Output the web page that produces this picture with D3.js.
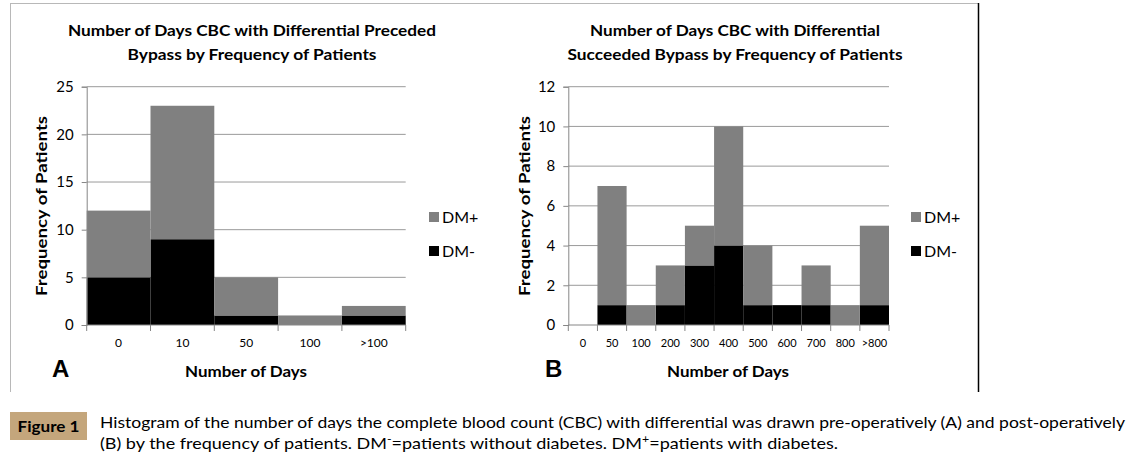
<!DOCTYPE html>
<html lang="en">
<head>
<meta charset="UTF-8">
<title>Figure 1 - CBC with Differential and Bypass</title>
<script src="https://d3js.org/d3.v7.min.js"></script>
<style>
    body { margin: 0; background: #fff; }
    svg text { font-family: Lato, "Open Sans", sans-serif; fill: #000; }
    .title { font-size: 15px; font-weight: bold; }
    .axis-title { font-size: 16px; font-weight: bold; }
    .panel-letter { font-size: 24px; font-weight: bold; font-family: "Liberation Sans", Arial, sans-serif; }
    .ytick { font-size: 15px; }
    .xtick { font-size: 12px; }
    .legend-text { font-size: 16px; }
    .caption { font-size: 16px; }
</style>
</head>
<body>
<div id="chart"></div>
<script>
// panel A: days CBC preceded bypass
const catsA = ["0", "10", "50", "100", ">100"];
const dmMinusA = [5, 9, 1, 0, 1];
const dmPlusA = [7, 14, 4, 1, 1];   // stacked on top of DM-

// panel B: days CBC succeeded bypass
const catsB = ["0", "50", "100", "200", "300", "400", "500", "600", "700", "800", ">800"];
const dmMinusB = [0, 1, 0, 1, 3, 4, 1, 1, 1, 0, 1];
const dmPlusB = [0, 6, 1, 2, 2, 6, 3, 0, 2, 1, 4];

const seriesNames = ["DM+", "DM-"];
const colors = { "DM+": "#808080", "DM-": "#000000" };

const W = 1138, H = 460;
const svg = d3.select("#chart").append("svg").attr("width", W).attr("height", H);

// outer frame: grey top/left, dark right
svg.append("line").attr("x1", 10).attr("x2", 978).attr("y1", 3.5).attr("y2", 3.5).attr("stroke", "#b8b8b8");
svg.append("line").attr("x1", 10.5).attr("x2", 10.5).attr("y1", 3).attr("y2", 392).attr("stroke", "#b8b8b8");
svg.append("line").attr("x1", 978.5).attr("x2", 978.5).attr("y1", 3).attr("y2", 392).attr("stroke", "#000").attr("stroke-width", 1.5);

function drawPanel(opts) {
    const g = svg.append("g");
    const x = d3.scaleBand().domain(opts.cats).range([opts.x0, opts.x1]).padding(0);
    const y = d3.scaleLinear().domain([0, opts.ymax]).range([325, 86.7]);

    // gridlines
    g.selectAll(".grid").data(d3.range(opts.step, opts.ymax + 0.001, opts.step)).join("line")
        .attr("x1", opts.x0).attr("x2", opts.x1)
        .attr("y1", d => y(d)).attr("y2", d => y(d))
        .attr("stroke", "#9a9a9a").attr("stroke-width", 1);

    // stacked bars
    const rows = opts.cats.map((c, i) => ({ cat: c, "DM-": opts.minus[i], "DM+": opts.plus[i] }));
    const stack = d3.stack().keys(["DM-", "DM+"])(rows);
    stack.forEach(layer => {
        g.selectAll(null).data(layer).join("rect")
            .attr("x", d => x(d.data.cat))
            .attr("width", x.bandwidth())
            .attr("y", d => y(d[1]))
            .attr("height", d => y(d[0]) - y(d[1]))
            .attr("fill", colors[layer.key]);
    });

    // y axis
    const yAxis = g.append("g").attr("transform", `translate(${opts.x0},0)`)
        .call(d3.axisLeft(y).tickValues(d3.range(0, opts.ymax + 0.001, opts.step)).tickSize(5).tickPadding(8));
    yAxis.select(".domain").attr("stroke", "#868686");
    yAxis.selectAll(".tick line").attr("stroke", "#868686");
    yAxis.selectAll("text").attr("class", "ytick").attr("fill", "#000").style("font-family", "Lato, sans-serif");

    // x axis: ticks on the band edges, labels centered in bands
    const edges = opts.cats.map(c => x(c)).concat([opts.x1]);
    g.append("line").attr("x1", opts.x0).attr("x2", opts.x1).attr("y1", 325).attr("y2", 325).attr("stroke", "#868686");
    g.selectAll(".xt").data(edges).join("line")
        .attr("x1", d => d).attr("x2", d => d).attr("y1", 325).attr("y2", 331)
        .attr("stroke", "#868686");
    g.selectAll(".xl").data(opts.cats).join("text")
        .attr("class", "xtick")
        .attr("x", d => x(d) + x.bandwidth() / 2)
        .attr("y", 347)
        .attr("text-anchor", "middle")
        .style("font-size", opts.xFont + "px")
        .text(d => d);

    // titles
    opts.title.forEach((t, i) => {
        g.append("text").attr("class", "title")
            .attr("x", opts.titleX).attr("y", 36 + i * 24)
            .attr("text-anchor", "middle")
            .attr("textLength", opts.titleW[i]).attr("lengthAdjust", "spacingAndGlyphs")
            .text(t);
    });
    g.append("text").attr("class", "axis-title")
        .attr("transform", `translate(${opts.yTitleX},206) rotate(-90)`)
        .attr("text-anchor", "middle")
        .attr("textLength", 180).attr("lengthAdjust", "spacingAndGlyphs")
        .text("Frequency of Patients");
    g.append("text").attr("class", "axis-title")
        .attr("x", opts.xTitleX).attr("y", 377)
        .attr("text-anchor", "middle")
        .attr("textLength", 122).attr("lengthAdjust", "spacingAndGlyphs")
        .text("Number of Days");
    g.append("text").attr("class", "panel-letter")
        .attr("x", opts.letterX).attr("y", 377)
        .text(opts.letter);

    // legend
    const lg = g.append("g").attr("transform", `translate(${opts.legendX},212)`);
    seriesNames.forEach((s, i) => {
        lg.append("rect").attr("x", 0).attr("y", i * 34).attr("width", 10).attr("height", 10).attr("fill", colors[s]);
        lg.append("text").attr("class", "legend-text").attr("x", 13).attr("y", i * 34 + 11).text(s);
    });
}

drawPanel({
    cats: catsA, minus: dmMinusA, plus: dmPlusA, ymax: 25, step: 5,
    x0: 86.7, x1: 405.7, xFont: 12,
    title: ["Number of Days CBC with Differential Preceded", "Bypass by Frequency of Patients"],
    titleW: [368, 249], titleX: 252,
    yTitleX: 47, xTitleX: 246, letter: "A", letterX: 52, legendX: 429
});

drawPanel({
    cats: catsB, minus: dmMinusB, plus: dmPlusB, ymax: 12, step: 2,
    x0: 568.3, x1: 889, xFont: 11,
    title: ["Number of Days CBC with Differential", "Succeeded Bypass by Frequency of Patients"],
    titleW: [290, 335], titleX: 735,
    yTitleX: 530, xTitleX: 728, letter: "B", letterX: 545, legendX: 911
});

// caption
svg.append("rect").attr("x", 10).attr("y", 412).attr("width", 77).attr("height", 28).attr("fill", "#c4a67c");
svg.append("text").attr("x", 48.5).attr("y", 432).attr("text-anchor", "middle")
    .style("font-size", "16px").style("font-weight", "bold").attr("fill", "#222")
    .attr("textLength", 62).attr("lengthAdjust", "spacingAndGlyphs")
    .text("Figure 1");

const cap1 = "Histogram of the number of days the complete blood count (CBC) with differential was drawn pre-operatively (A) and post-operatively";
svg.append("text").attr("class", "caption").attr("x", 100).attr("y", 428)
    .attr("textLength", 1025).attr("lengthAdjust", "spacingAndGlyphs")
    .text(cap1);

const cap2 = svg.append("text").attr("class", "caption").attr("x", 100).attr("y", 449)
    .attr("textLength", 738).attr("lengthAdjust", "spacingAndGlyphs");
cap2.append("tspan").text("(B) by the frequency of patients. DM");
cap2.append("tspan").attr("dy", -6).style("font-size", "11px").text("-");
cap2.append("tspan").attr("dy", 6).text("=patients without diabetes. DM");
cap2.append("tspan").attr("dy", -6).style("font-size", "11px").text("+");
cap2.append("tspan").attr("dy", 6).text("=patients with diabetes.");
</script>
</body>
</html>
